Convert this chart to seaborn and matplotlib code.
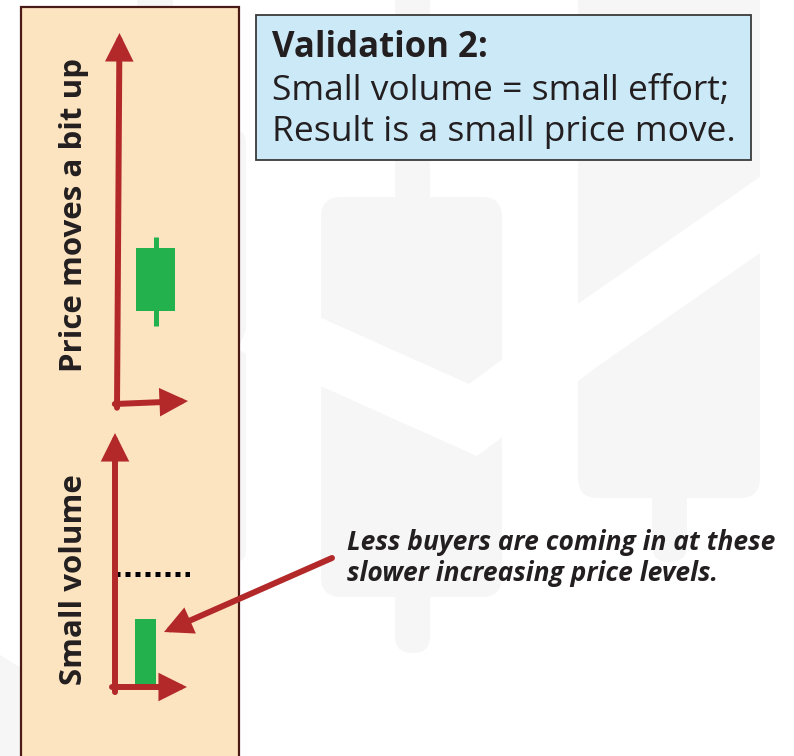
import seaborn as sns
import matplotlib.pyplot as plt
from matplotlib.patches import Rectangle, FancyBboxPatch, Polygon

W, H = 794, 756

# values (arbitrary 0-10 scale on each mini chart)
candle_open = [2.5]
candle_close = [4.2]
candle_low = [2.1]
candle_high = [4.5]
volume = [2.68]
volume_level = [4.45]

box_lines = ["Validation 2:", "Small volume = small effort;", "Result is a small price move."]
note_lines = ["Less buyers are coming in at these", "slower increasing price levels."]
price_label = "Price moves a bit up"
volume_label = "Small volume"

RED = "#b3292a"
GREEN = "#22b14c"
PEACH = "#fde4c1"
BLUE = "#cce9f8"
INK = "#231f20"
WM = "#f6f6f6"

sns.set_theme(style="white")
plt.rcParams['font.family'] = ['Open Sans', 'DejaVu Sans']

fig = plt.figure(figsize=(W / 100, H / 100), dpi=100)
bg = fig.add_axes([0, 0, 1, 1])
bg.set_xlim(0, W)
bg.set_ylim(H, 0)
bg.axis('off')


def px_axes(x0, y0, x1, y1):
	ax = fig.add_axes([x0 / W, 1 - y1 / H, (x1 - x0) / W, (y1 - y0) / H])
	return ax


def rounded(x0, y0, x1, y1, r, color=WM):
	bg.add_patch(FancyBboxPatch((x0 + r, y0 + r), x1 - x0 - 2 * r, y1 - y0 - 2 * r,
		boxstyle=f"round,pad={r}", fc=color, ec="none", zorder=0))


# faint watermark candles in the background
rounded(321, 197, 502, 597, 20)
rounded(395, -20, 430, 653, 17)
rounded(578, -40, 760, 498, 20)
rounded(652, 480, 687, 562, 17)
rounded(60, 130, 246, 562, 12)
rounded(137, -20, 173, 600, 17)
bg.add_patch(Polygon([(0, 655), (21, 668), (21, 756), (0, 756)], fc=WM, ec="none", zorder=0))
bg.plot([250, 321, 473, 578, 800], [321, 352, 420, 342, 187], color="white", lw=45,
	solid_joinstyle="miter", solid_capstyle="butt", zorder=0.5)

# peach panel and text box
bg.add_patch(Rectangle((21, 7), 218, 780, fc=PEACH, ec="#4a1a17", lw=1.6, zorder=1))
bg.add_patch(Rectangle((256, 15), 495, 145, fc=BLUE, ec="#3a3a3a", lw=1.3, zorder=1))

bg.text(272, 57, box_lines[0], fontsize=25, fontweight="bold", color=INK, va="baseline", zorder=2)
bg.text(272, 100, box_lines[1], fontsize=25.5, color=INK, va="baseline", zorder=2)
bg.text(272, 141, box_lines[2], fontsize=25.5, color=INK, va="baseline", zorder=2)

bg.text(347, 550, note_lines[0], fontsize=19, fontweight="bold", style="italic", color=INK, va="baseline", zorder=2)
bg.text(347, 581, note_lines[1], fontsize=19, fontweight="bold", style="italic", color=INK, va="baseline", zorder=2)

bg.text(82, 215, price_label, fontsize=22.5, fontweight="bold", color=INK, rotation=90,
	rotation_mode="anchor", ha="center", va="baseline", zorder=2)
bg.text(82, 580, volume_label, fontsize=22.5, fontweight="bold", color=INK, rotation=90,
	rotation_mode="anchor", ha="center", va="baseline", zorder=2)

arrow_style = dict(arrowstyle="-|>,head_length=0.8,head_width=0.4", mutation_scale=17,
	lw=4.3, color=RED, shrinkA=0, shrinkB=0, joinstyle="miter")

bg.annotate("", xy=(164, 632), xytext=(332, 558), arrowprops=arrow_style, zorder=3)

# price mini chart
pa = px_axes(117, 33, 190, 404)
pa.set_xlim(0, 1)
pa.set_ylim(0, 10)
pa.axis('off')
pa.vlines([0.534], candle_low, candle_high, color=GREEN, lw=3.6)
pa.bar([0.534], [c - o for o, c in zip(candle_open, candle_close)], bottom=candle_open,
	width=0.534, color=GREEN, linewidth=0, zorder=2)
pa.annotate("", xy=(0.034, 1.0), xytext=(0.0, -0.01), xycoords="axes fraction",
	arrowprops=arrow_style)
pa.annotate("", xy=(0.973, 0.008), xytext=(-0.03, 0.0), xycoords="axes fraction",
	arrowprops=arrow_style)

# volume mini chart
va = px_axes(113, 433, 190, 687)
sns.barplot(x=["vol"], y=volume, color=GREEN, saturation=1, width=0.8, errorbar=None,
	linewidth=0, ax=va)
va.set_xlim(-1.238, 1.695)
va.set_ylim(0, 10)
va.axis('off')
va.axhline(volume_level[0], xmin=0.026, xmax=1.0, color="black", lw=3.6,
	linestyle=(0, (1, 1)), dash_capstyle="butt")
va.annotate("", xy=(0.026, 1.0), xytext=(0.026, -0.02), xycoords="axes fraction",
	arrowprops=arrow_style)
va.annotate("", xy=(0.961, 0.0), xytext=(-0.013, 0.0), xycoords="axes fraction",
	arrowprops=arrow_style)

fig.savefig("out.png", dpi=100)
